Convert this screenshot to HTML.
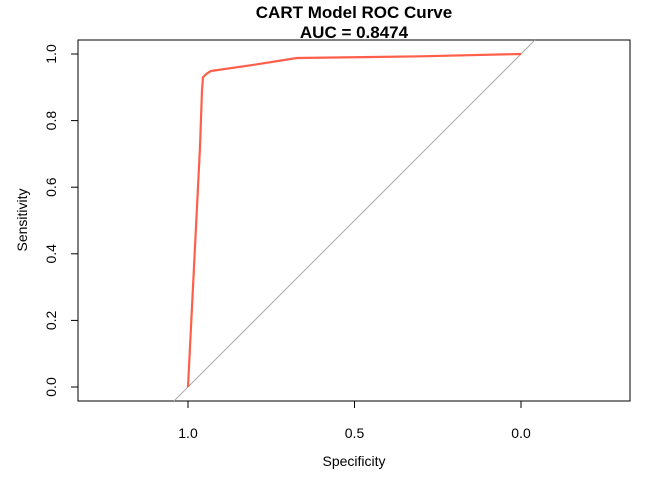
<!DOCTYPE html>
<html><head><meta charset="utf-8"><style>
html,body{margin:0;padding:0;background:#fff;width:672px;height:480px;overflow:hidden}
svg{display:block}
svg text{font-family:"Liberation Sans",Arial,sans-serif}
</style></head><body>
<svg id="chart" width="672" height="480" viewBox="0 0 672 480" xmlns="http://www.w3.org/2000/svg" overflow="hidden">
<rect width="672" height="480" fill="#fff"/>
<text x="354" y="18" font-size="17" font-weight="bold" text-anchor="middle">CART Model ROC Curve</text>
<text x="354" y="38" font-size="17" font-weight="bold" text-anchor="middle">AUC = 0.8474</text>
<rect x="78" y="40" width="552" height="361" fill="none" stroke="#000" stroke-width="1"/>
<g id="xaxis"></g>
<g id="yaxis"></g>
<g id="marks"></g>
<text x="354" y="466" font-size="14" text-anchor="middle">Specificity</text>
<text x="27" y="220" font-size="14" text-anchor="middle" transform="rotate(-90 27 220)">Sensitivity</text>
</svg>
<script>
const specificity=[1.0,0.964,0.958,0.955,0.945,0.931,0.8,0.673,0.3,0.0];
const sensitivity=[0.0,0.72,0.89,0.93,0.94,0.949,0.968,0.988,0.993,1.0];
const xTicks=[1.0,0.5,0.0];
const xTickLabels=["1.0","0.5","0.0"];
const yTicks=[0,0.2,0.4,0.6,0.8,1.0];
const yTickLabels=["0.0","0.2","0.4","0.6","0.8","1.0"];
const NS="http://www.w3.org/2000/svg";
function sx(s){return 188+(1-s)*333;}
function sy(v){return 387-v*333;}
function mk(t,a,p){const e=document.createElementNS(NS,t);for(const k in a)e.setAttribute(k,a[k]);p.appendChild(e);return e;}
const xa=document.getElementById('xaxis'),ya=document.getElementById('yaxis'),mg=document.getElementById('marks');
mk('line',{x1:sx(xTicks[0]),x2:sx(xTicks[xTicks.length-1]),y1:401,y2:401,stroke:'#000'},xa);
xTicks.forEach((t,i)=>{
 const l=mk('line',{x1:sx(t),x2:sx(t),y1:401,y2:408,stroke:'#000'},xa);
 
 
 const tx=mk('text',{x:sx(t),y:438,'font-size':14,'text-anchor':'middle'},xa);tx.textContent=xTickLabels[i];
 
 
});
yTicks.forEach((t,i)=>{
 const l=mk('line',{x1:71,x2:78,y1:sy(t),y2:sy(t),stroke:'#000'},ya);
 
 
 const tx=mk('text',{x:56,y:sy(t),'font-size':14,'text-anchor':'middle',transform:`rotate(-90 56 ${sy(t)})`},ya);tx.textContent=yTickLabels[i];
 
 
});
const lo=(387-401)/333, hi=(387-40)/333;
const d=mk('line',{x1:sx(1-lo),y1:sy(lo),x2:sx(1-hi),y2:sy(hi),stroke:'#aaa',"stroke-width":1},mg);


const pts=specificity.map((s,i)=>sx(s)+','+sy(sensitivity[i])).join(' ');
const c=mk('polyline',{points:pts,fill:'none',stroke:'#ff5f4a','stroke-width':2.2,'stroke-linejoin':'round'},mg);


</script>
</body></html>
